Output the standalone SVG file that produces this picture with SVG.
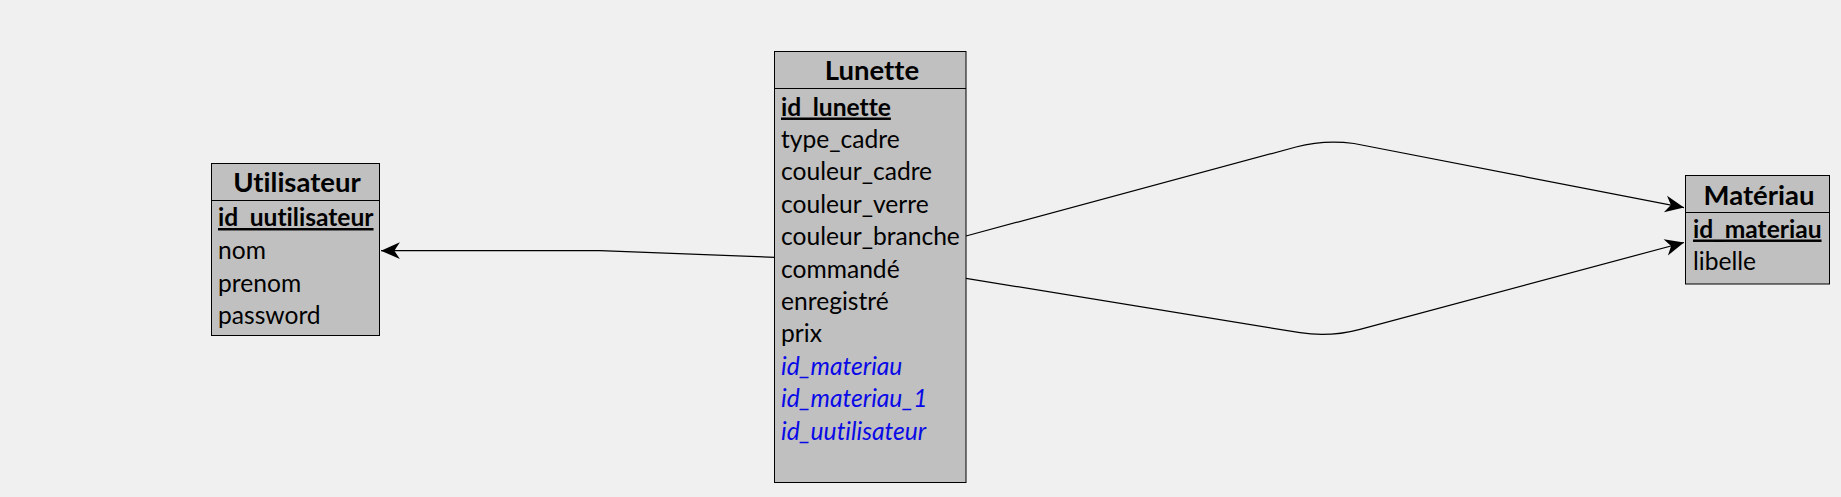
<svg xmlns="http://www.w3.org/2000/svg" width="1841" height="497" viewBox="0 0 1841 497">
<style>
text{font-variant-ligatures:none;font-feature-settings:"liga" 0,"clig" 0}
.box{fill:#c0c0c0;stroke:#000;stroke-width:1}
.sep{stroke:#000;stroke-width:1}
.title{font-family:Lato,"Liberation Sans",sans-serif;font-weight:bold;font-size:27.5px;fill:#000;text-anchor:middle}
.row{font-family:Lato,"Liberation Sans",sans-serif;font-size:24.6px;fill:#000}
.pk{font-weight:bold;text-decoration:underline}
.fk{font-style:italic;fill:#0a0ae6}
.conn{fill:none;stroke:#000;stroke-width:1.2}
</style>
<defs>
<marker id="arr" markerUnits="userSpaceOnUse" markerWidth="24" markerHeight="20" viewBox="-18 -9 20 18" refX="0" refY="0" orient="auto">
<path d="M0,0 L-17,-7.5 L-12,0 L-17,7.5 Z" fill="#000"/>
</marker>
</defs>
<rect width="1841" height="497" fill="#f0f0f0"/>
<g id="connectors">
<path class="conn" d="M775,257.3 L600,250.7 L381,250.7" marker-end="url(#arr)"/>
<path class="conn" d="M966,236 L1296,147 Q1324.5,139.4 1354,143.5 L1684,207.6" marker-end="url(#arr)"/>
<path class="conn" d="M966,278.3 L1300,332.7 Q1329.5,337.5 1360,329.3 L1684,242.5" marker-end="url(#arr)"/>
</g>
<g id="utilisateur">
<rect class="box" x="211.5" y="163.5" width="168" height="172"/>
<line class="sep" x1="211.5" y1="200.5" x2="379.5" y2="200.5"/>
<text class="title" x="297" y="192">Utilisateur</text>
<text class="row pk" x="218" y="226">id_uutilisateur</text>
<text class="row" x="218" y="259">nom</text>
<text class="row" x="218" y="291.5">prenom</text>
<text class="row" x="218" y="323.5">password</text>
</g>
<g id="lunette">
<rect class="box" x="774.5" y="51.5" width="191.5" height="431"/>
<line class="sep" x1="774.5" y1="88.5" x2="966" y2="88.5"/>
<text class="title" x="872" y="80">Lunette</text>
<text class="row pk" x="781" y="115.5">id_lunette</text>
<text class="row" x="781" y="147.9">type_cadre</text>
<text class="row" x="781" y="180.3">couleur_cadre</text>
<text class="row" x="781" y="212.7">couleur_verre</text>
<text class="row" x="781" y="245.1">couleur_branche</text>
<text class="row" x="781" y="277.5">commandé</text>
<text class="row" x="781" y="309.9">enregistré</text>
<text class="row" x="781" y="342.3">prix</text>
<text class="row fk" x="781" y="374.7">id_materiau</text>
<text class="row fk" x="781" y="407.1">id_materiau_1</text>
<text class="row fk" x="781" y="439.5">id_uutilisateur</text>
</g>
<g id="materiau">
<rect class="box" x="1685.5" y="175.5" width="144" height="108.5"/>
<line class="sep" x1="1685.5" y1="212.5" x2="1829.5" y2="212.5"/>
<text class="title" x="1759" y="205">Matériau</text>
<text class="row pk" x="1693" y="237.5">id_materiau</text>
<text class="row" x="1693" y="270">libelle</text>
</g>
</svg>
